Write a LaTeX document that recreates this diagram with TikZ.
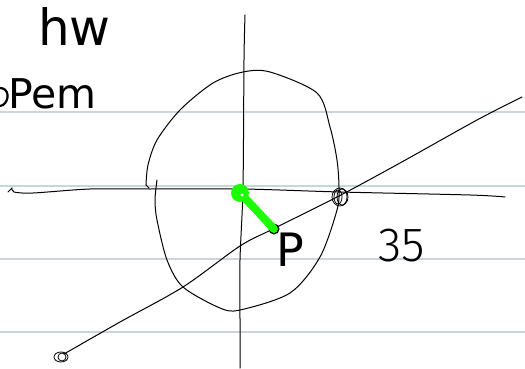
\documentclass[tikz,border=0pt]{standalone}
\usepackage{fontspec}
\setmainfont{DejaVu Sans}
\newfontfamily\thinfont{Fira Sans}[UprightFont={* Light}]
\begin{document}
\begin{tikzpicture}[x=1pt,y=-1pt,
  rule/.style={draw=cyan!25!gray!40, line width=1.3pt},
  pen/.style={draw=black, line width=1pt, line cap=round, line join=round},
  ink/.style={inner sep=0pt, text=black},
  marker/.style={draw, line width=0.8pt}]
\path[fill=white] (0,0) rectangle (525,369);
\useasboundingbox (0,0) rectangle (525,369);
% ruled lines
\foreach \y in {112,186,259,332} \draw[rule] (0,\y) -- (525,\y);
% texts
\node[ink, font=\fontsize{50}{50}\selectfont, anchor=base west] (hw) at (38,46) {hw};
\node[ink, font=\fontsize{41}{41}\selectfont, anchor=base west] (pem) at (8,108) {Pem};
\draw[pen, line width=2.2pt] (0,88) .. controls (9,88) and (10,100) .. (3,105) -- (0,106);
% axes
\draw[pen] plot[smooth] coordinates {(12,188) (14,192) (33,193) (90,189) (150,189) (243,189) (340,192) (470,195) (505,197)};
\draw[pen] (8,192) -- (12,188);
\draw[pen] plot[smooth] coordinates {(245,15) (244,60) (243,187) (240,260) (240,320) (240,368)};
% circle
\draw[pen] plot[smooth] coordinates {(146,185) (148,165) (157,140) (180,110) (213,83) (243,72) (270,72) (317,93) (330,127) (337,160) (339,188) (337,210) (320,257) (290,293) (240,310) (220,308) (183,287) (167,260) (157,220) (155,200) (157,180)};
\draw[pen] (146,185) -- (149,188);
% diagonal line
\coordinate (d1) at (64,354);
\coordinate (d2) at (522,97);
\draw[pen] plot[smooth] coordinates {(d1) (120,322) (183,287) (240,246) (273,229) (339,196) (400,163) (477,120) (d2)};
% markers (scribbled)
\coordinate (m1) at (61,357);
\coordinate (m2) at (340,197);
\draw[marker] (m1) ellipse (7pt and 5pt);
\draw[marker] ([xshift=1pt]m1) ellipse (4pt and 4pt);
\draw[marker] (m2) ellipse (8pt and 9pt);
\draw[marker] ([xshift=2pt]m2) ellipse (5pt and 8pt);
\draw[marker] ([xshift=-2pt]m2) ellipse (4pt and 7pt);
% green stroke
\coordinate (g0) at (240,193);
\node[fill=black, circle, minimum size=11pt, inner sep=0pt] (pt) at (274,229) {};
\draw[draw=green!85!lime, line width=8pt, line cap=round] (243,196) -- (pt.center);
\fill[green!85!lime] (g0) circle (9pt);
\fill[white] (242,195) circle (1.6pt);
% labels
\node[ink, font=\fontsize{46}{46}\selectfont] (P) at (290,250) {P};
\node[ink, font=\thinfont\fontsize{48}{48}\selectfont] (n35) at (402,246) {35};
\end{tikzpicture}
\end{document}
